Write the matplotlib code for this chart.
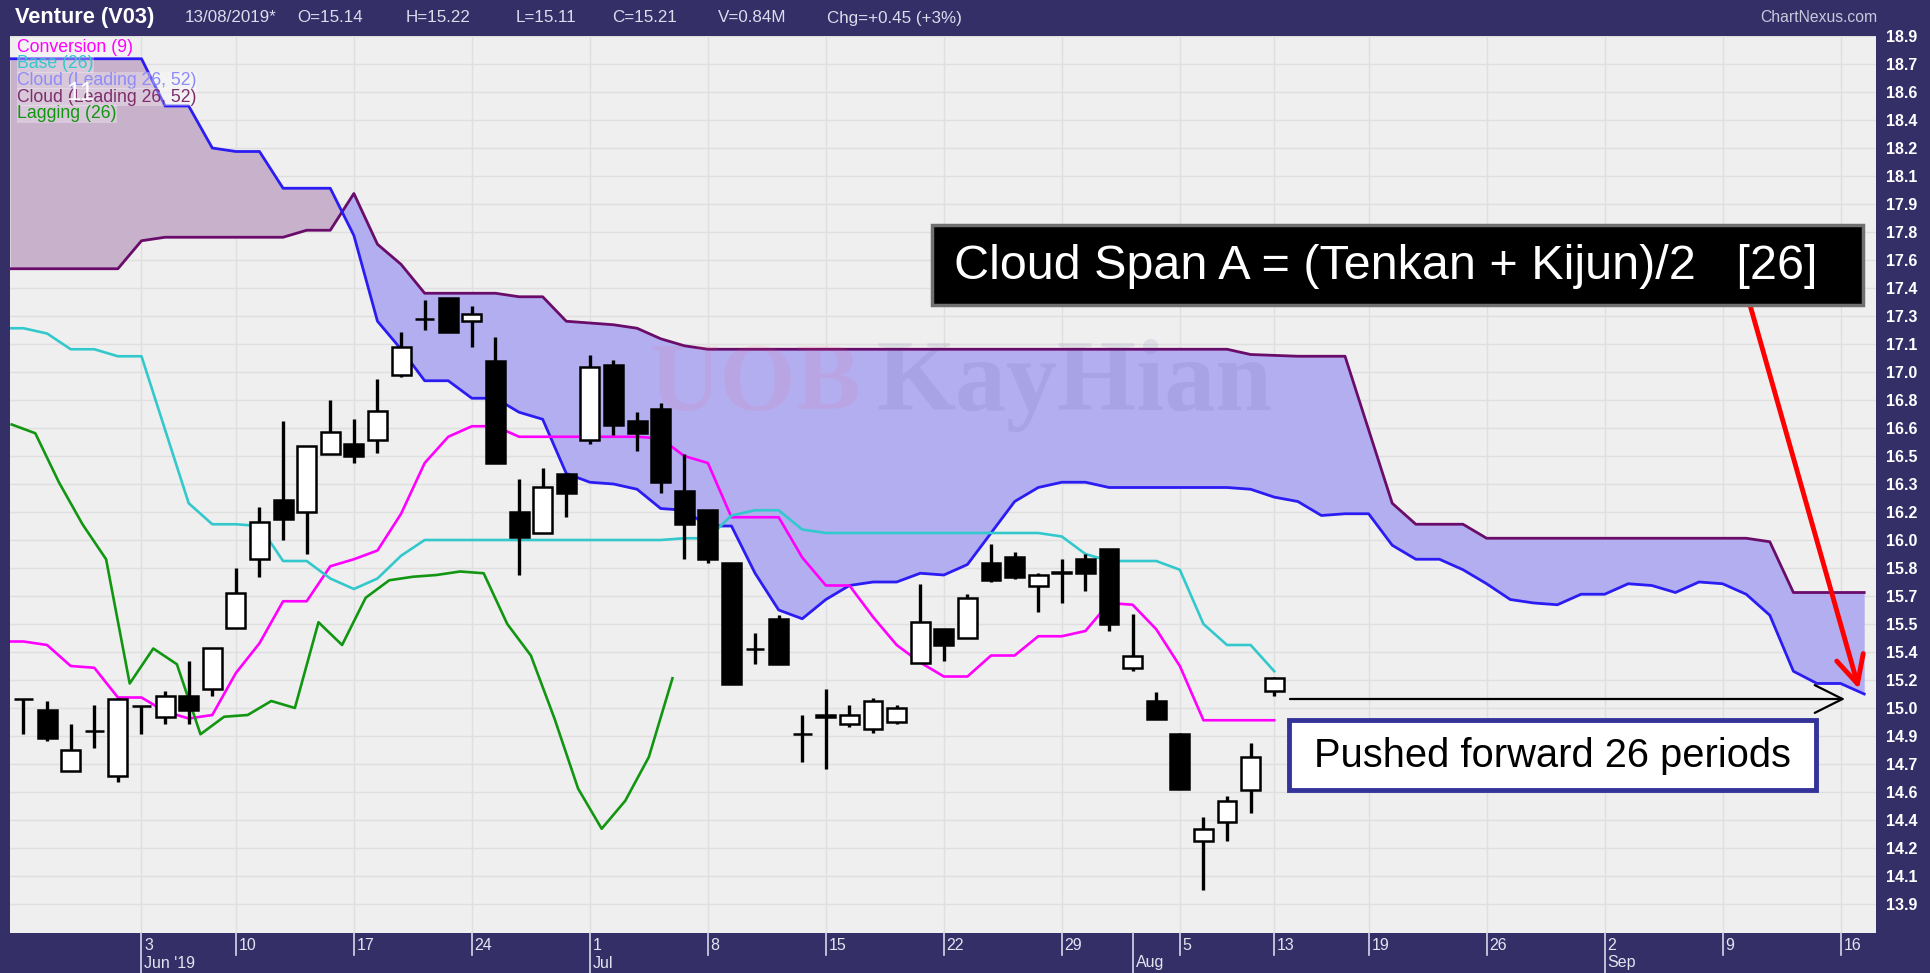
import numpy as np
import pandas as pd
import matplotlib
matplotlib.use('Agg')
import matplotlib.pyplot as plt
from matplotlib.patches import Rectangle
from matplotlib import font_manager

# ---- data (Venture V03, daily) ----
opens = [15.09, 15.03, 14.68, 14.91, 14.65, 15.05, 14.99, 15.11, 15.15, 15.50,
         15.89, 16.23, 16.16, 16.49, 16.55, 16.57, 16.94, 17.26, 17.38, 17.25,
         17.02, 16.16, 16.04, 16.38, 16.57, 17.00, 16.68, 16.75, 16.28, 16.17,
         15.87, 15.38, 15.55, 14.89, 15.00, 14.95, 14.92, 14.96, 15.30, 15.49,
         15.44, 15.87, 15.90, 15.74, 15.81, 15.89, 15.95, 15.27, 15.08, 14.89,
         14.28, 14.39, 14.57, 15.14]
highs = [15.09, 15.08, 14.95, 15.06, 15.10, 15.05, 15.14, 15.31, 15.38, 15.84,
         16.19, 16.68, 16.54, 16.80, 16.69, 16.92, 17.19, 17.37, 17.38, 17.34,
         17.16, 16.35, 16.41, 16.38, 17.06, 17.03, 16.73, 16.78, 16.49, 16.17,
         15.87, 15.47, 15.57, 15.00, 15.15, 15.06, 15.10, 15.06, 15.75, 15.49,
         15.69, 15.98, 15.93, 15.81, 15.89, 15.92, 15.95, 15.58, 15.13, 14.90,
         14.42, 14.54, 14.84, 15.22]
lows = [14.89, 14.85, 14.68, 14.81, 14.62, 14.89, 14.95, 14.95, 15.11, 15.50,
        15.79, 16.00, 15.92, 16.49, 16.44, 16.50, 16.93, 17.20, 17.19, 17.10,
        16.44, 15.80, 16.04, 16.13, 16.55, 16.60, 16.51, 16.27, 15.89, 15.87,
        15.18, 15.29, 15.29, 14.73, 14.69, 14.93, 14.90, 14.95, 15.30, 15.31,
        15.44, 15.76, 15.78, 15.59, 15.64, 15.71, 15.48, 15.25, 14.98, 14.58,
        14.00, 14.28, 14.44, 15.11]
closes = [15.09, 14.87, 14.80, 14.91, 15.09, 15.05, 15.11, 15.03, 15.38, 15.70,
          16.10, 16.12, 16.54, 16.62, 16.48, 16.74, 17.10, 17.26, 17.19, 17.29,
          16.44, 16.02, 16.30, 16.27, 16.99, 16.66, 16.61, 16.33, 16.09, 15.89,
          15.18, 15.38, 15.29, 14.89, 14.99, 15.00, 15.08, 15.04, 15.53, 15.40,
          15.67, 15.77, 15.79, 15.80, 15.82, 15.81, 15.52, 15.34, 14.98, 14.58,
          14.35, 14.51, 14.76, 15.21]

conversion = [15.42, 15.40, 15.28, 15.27, 15.10, 15.10, 15.02, 14.98, 15.00, 15.24,
              15.41, 15.65, 15.65, 15.85, 15.89, 15.94, 16.15, 16.44, 16.59, 16.65,
              16.65, 16.59, 16.59, 16.59, 16.59, 16.59, 16.59, 16.58, 16.48, 16.44,
              16.13, 16.13, 16.13, 15.90, 15.74, 15.74, 15.56, 15.40, 15.30, 15.22,
              15.22, 15.34, 15.34, 15.45, 15.45, 15.48, 15.64, 15.63, 15.49, 15.28,
              14.97, 14.97, 14.97, 14.97]
base = [17.21, 17.18, 17.09, 17.09, 17.05, 17.05, 16.63, 16.21, 16.09, 16.09,
        16.08, 15.88, 15.88, 15.78, 15.72, 15.78, 15.91, 16.00, 16.00, 16.00,
        16.00, 16.00, 16.00, 16.00, 16.00, 16.00, 16.00, 16.00, 16.01, 16.01,
        16.14, 16.17, 16.17, 16.06, 16.04, 16.04, 16.04, 16.04, 16.04, 16.04,
        16.04, 16.04, 16.04, 16.04, 16.02, 15.92, 15.88, 15.88, 15.88, 15.83,
        15.52, 15.40, 15.40, 15.25]

# leading spans, 79 periods (26 ahead of last bar)
span_a = [18.75, 18.75, 18.75, 18.75, 18.75, 18.75, 18.48, 18.48, 18.24, 18.22,
          18.22, 18.01, 18.01, 18.01, 17.74, 17.25, 17.09, 16.91, 16.91, 16.81,
          16.81, 16.73, 16.69, 16.38, 16.33, 16.32, 16.29, 16.18, 16.17, 16.08,
          16.08, 15.81, 15.60, 15.55, 15.66, 15.74, 15.76, 15.76, 15.81, 15.80,
          15.86, 16.04, 16.22, 16.30, 16.33, 16.33, 16.30, 16.30, 16.30, 16.30,
          16.30, 16.30, 16.29, 16.245, 16.22, 16.14, 16.15, 16.15, 15.97, 15.89,
          15.89, 15.83, 15.75, 15.66, 15.64, 15.63, 15.69, 15.69, 15.75, 15.74,
          15.70, 15.76, 15.75, 15.69, 15.57, 15.25, 15.18, 15.18, 15.12]
span_b = [17.55, 17.55, 17.55, 17.55, 17.55, 17.71, 17.73, 17.73, 17.73, 17.73,
          17.73, 17.73, 17.77, 17.77, 17.98, 17.69, 17.575, 17.41, 17.41, 17.41,
          17.41, 17.39, 17.39, 17.25, 17.24, 17.23, 17.21, 17.15, 17.11, 17.09,
          17.09, 17.09, 17.09, 17.09, 17.09, 17.09, 17.09, 17.09, 17.09, 17.09,
          17.09, 17.09, 17.09, 17.09, 17.09, 17.09, 17.09, 17.09, 17.09, 17.09,
          17.09, 17.09, 17.06, 17.055, 17.05, 17.05, 17.05, 16.63, 16.21, 16.09,
          16.09, 16.09, 16.01, 16.01, 16.01, 16.01, 16.01, 16.01, 16.01, 16.01,
          16.01, 16.01, 16.01, 16.01, 15.99, 15.70, 15.70, 15.70, 15.70]

holidays = ['2019-06-05', '2019-08-09', '2019-08-12']
header = ["13/08/2019*", "O=15.14", "H=15.22", "L=15.11", "C=15.21", "V=0.84M", "Chg=+0.45 (+3%)"]
header_x = [185, 297, 406, 516, 612, 718, 827]
legend_names = ["Conversion (9)", "Base (26)", "Cloud (Leading 26, 52)", "Cloud (Leading 26, 52)", "Lagging (26)"]
legend_cols = ['#ff00ff', '#33c8cc', '#8e8cf6', '#7e2c6c', '#129612']

# ---- style ----
NAVY = '#352f68'
W, H = 1930, 973
names = {f.name for f in font_manager.fontManager.ttflist}
SANS = 'Liberation Sans Narrow' if 'Liberation Sans Narrow' in names else 'Liberation Sans'
plt.rcParams['font.family'] = [SANS, 'DejaVu Sans']


def fx(x):
    return x / W


def fy(y):
    return 1 - y / H


fig = plt.figure(figsize=(19.3, 9.73), dpi=100, facecolor=NAVY)
ax = fig.add_axes([10 / W, 40 / H, 1866 / W, 897 / H])
ax.set_facecolor('#efefef')
for s in ax.spines.values():
    s.set_visible(False)

o, h, l, c = map(np.array, (opens, highs, lows, closes))
ci = np.arange(len(c))
xi = np.arange(len(span_a))
sa = np.array(span_a)
sb = np.array(span_b)

days = pd.bdate_range('2019-05-27', periods=len(xi), freq='C', holidays=holidays)
wk = days.isocalendar().week.values
week_idx = [i for i in range(1, len(days)) if wk[i] != wk[i - 1]]
month_idx = [i for i in range(1, len(days)) if days[i].month != days[i - 1].month]

X0 = -0.572
ax.set_xlim(X0, 78.5)
ax.set_ylim(18.88 - 897 / 175.0, 18.88)
yt = 13.92 + 0.16 * np.arange(32)
ax.set_yticks(yt)
ax.set_yticklabels([f'{t:.1f}' for t in yt])
ax.yaxis.tick_right()
ax.tick_params(axis='y', length=0, pad=7, labelcolor='white', labelsize=11.5)
for lab in ax.get_yticklabels():
    lab.set_fontweight('bold')
ax.set_xticks(week_idx)
ax.tick_params(axis='x', length=0, labelbottom=False)
ax.grid(True, color='#dfdfdf', lw=1)
ax.set_axisbelow(True)

# date labels under the plot
tr = ax.get_xaxis_transform()
for i in sorted(set(week_idx) | set(month_idx)):
    long = i in month_idx
    ax.plot([i, i], [0, -40 / 897 if long else -22 / 897], transform=tr, clip_on=False,
            color='#d8d8ea', lw=1.2)
    if i in week_idx:
        ax.text(i + 0.12, -12 / 897, str(days[i].day), transform=tr, ha='left', va='center',
                color='#e4e4f0', fontsize=11.5)
    if long:
        m = days[i].strftime('%b')
        if i == month_idx[0]:
            m += " '19"
        ax.text(i + 0.12, -30 / 897, m, transform=tr, ha='left', va='center',
                color='#e4e4f0', fontsize=11.5)

# lines run on to the left edge of the plot
xe = np.r_[X0, xi]
sae = np.r_[sa[0], sa]
sbe = np.r_[sb[0], sb]
ce = np.r_[X0, ci]

# cloud
ax.fill_between(xe, sae, sbe, where=sae >= sbe, interpolate=True, color='#c8b1cb', lw=0, zorder=1)
ax.fill_between(xe, sae, sbe, where=sae <= sbe, interpolate=True, color='#b2aef0', lw=0, zorder=1)
ax.plot(xe, sbe, color='#6a0c6a', lw=2, zorder=3)
ax.plot(xe, sae, color='#2a1cf2', lw=2, zorder=3)

# watermark
wm1 = fig.text(fx(650), fy(410), 'UOB', color='#ff5a78', alpha=0.10, fontsize=72,
               family='Liberation Serif', fontweight='bold', va='baseline', zorder=2)
wm2 = fig.text(fx(876), fy(410), 'KayHian', color='#3a3a80', alpha=0.09, fontsize=72,
               family='Liberation Serif', fontweight='bold', va='baseline', zorder=2)

# lines
ax.plot(ce, np.r_[conversion[0], conversion], color='#ff00ff', lw=1.9, zorder=4)
ax.plot(ce, np.r_[base[0], base], color='#33c8cc', lw=1.9, zorder=4)
ax.plot(ci[25:] - 25.5, c[25:], color='#129612', lw=1.9, zorder=4)

# candles
up = c >= o
ax.vlines(ci, l, h, color='black', lw=2.4, zorder=5)
ax.bar(ci, np.abs(c - o), bottom=np.minimum(o, c), width=0.8,
       color=np.where(up, 'white', 'black'), edgecolor='black', linewidth=1.8, zorder=6)

# header
t0 = fig.text(fx(15), fy(18), 'Venture (V03)', color='white', fontsize=15, fontweight='bold', va='center')
hdr = [fig.text(fx(x), fy(18), s, color='#dcdcec', fontsize=12.5, va='center') for s, x in zip(header, header_x)]
cn = fig.text(fx(1877), fy(18), 'ChartNexus.com', color='#c8c8dc', fontsize=12, va='center', ha='right')

# legend
leg = []
for k, (name, col) in enumerate(zip(legend_names, legend_cols)):
    leg.append(fig.text(fx(17), fy(47 + 16.7 * k), name, color=col, fontsize=12.5, va='center', zorder=8,
                        bbox=dict(facecolor='white', alpha=0.3, edgecolor='none', pad=0.3)))
a11 = fig.text(fx(67), fy(93), '11', color='white', fontsize=17, va='center', zorder=9)

# annotations
fig.add_artist(Rectangle((fx(932), fy(305)), (1863 - 932) / W, 80 / H, transform=fig.transFigure,
                         facecolor='black', edgecolor='#707070', lw=2.5, zorder=10))
big = fig.text(fx(954), fy(266), 'Cloud Span A = (Tenkan + Kijun)/2   [26]', color='white',
               fontsize=34, va='center', zorder=11)
fig.add_artist(Rectangle((fx(1289), fy(790)), (1816 - 1289) / W, 70 / H, transform=fig.transFigure,
                         facecolor='white', edgecolor='#333399', lw=3.5, zorder=10))
push = fig.text(fx(1552), fy(756), 'Pushed forward 26 periods', color='black', fontsize=26,
                va='center', ha='center', zorder=11)
ax.annotate('', xy=(1859, H - 689), xytext=(1750, H - 305), xycoords='figure pixels',
            arrowprops=dict(arrowstyle='->,head_length=0.9,head_width=0.45', color='#ff0000',
                            lw=3.5, mutation_scale=22, shrinkA=0, shrinkB=0), zorder=12)
ax.annotate('', xy=(1845, H - 699), xytext=(1290, H - 699), xycoords='figure pixels',
            arrowprops=dict(arrowstyle='->,head_length=1.0,head_width=0.5', color='black',
                            lw=1.6, mutation_scale=20, shrinkA=0, shrinkB=0), zorder=12)

# fit text widths to the reference
fig.canvas.draw()
r = fig.canvas.get_renderer()


def fit(t, width):
    t.set_fontsize(t.get_fontsize() * width / t.get_window_extent(r).width)


fit(t0, 140)
fit(hdr[0], 92)
for t in hdr[1:]:
    t.set_fontsize(hdr[0].get_fontsize())
fit(cn, 117)
fit(leg[0], 116)
for t in leg[1:]:
    t.set_fontsize(leg[0].get_fontsize())
fit(a11, 27)
fit(big, 862)
fit(push, 476)
fit(wm1, 212)
fit(wm2, 396)

fig.savefig('out.png', dpi=100, facecolor=NAVY)
